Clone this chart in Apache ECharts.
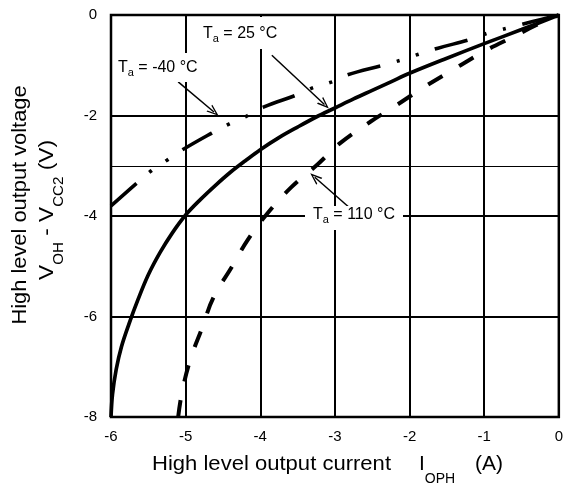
<!DOCTYPE html>
<html><head><meta charset="utf-8">
<script src="https://cdn.jsdelivr.net/npm/echarts@6/dist/echarts.min.js"></script>
<style>html,body{margin:0;padding:0;background:#fff}#c{width:566px;height:488px}</style>
</head><body><div id="c"></div>
<script>
// ---- data ----
const xTicks = [-6, -5, -4, -3, -2, -1, 0];
const yTicks = [0, -2, -4, -6, -8];
const thinGridY = [-3];

const current25 = [-6.00, -5.98, -5.93, -5.86, -5.76, -5.64, -5.50, -5.34, -5.18, -5.00, -4.80, -4.60, -4.40, -4.20, -4.00, -3.75, -3.50, -3.25, -3.00, -2.75, -2.50, -2.25, -2.00, -1.50, -1.00, -0.50, 0];
const voltage25 = [-8.00, -7.55, -7.05, -6.60, -6.15, -5.67, -5.17, -4.72, -4.34, -3.98, -3.67, -3.39, -3.13, -2.90, -2.68, -2.44, -2.23, -2.03, -1.85, -1.67, -1.50, -1.33, -1.16, -0.86, -0.57, -0.29, 0];

const currentM40 = [-6.0, -5.65, -5.46, -5.25, -5.05, -4.65, -4.42, -4.18, -3.95, -3.51, -3.30, -3.04, -2.83, -2.36, -2.12, -1.88, -1.62, -1.17, -0.95, -0.69, -0.35, 0];
const voltageM40 = [-3.80, -3.34, -3.10, -2.89, -2.69, -2.35, -2.17, -2.01, -1.83, -1.59, -1.45, -1.33, -1.19, -1.00, -0.90, -0.78, -0.66, -0.48, -0.36, -0.26, -0.13, 0];

const current110 = [-5.10, -5.05, -4.94, -4.78, -4.63, -4.38, -4.17, -3.90, -3.58, -3.23, -2.93, -2.53, -2.17, -1.80, -1.42, -0.97, -0.62, -0.30, 0];
const voltage110 = [-8.0, -7.52, -6.87, -6.23, -5.63, -5.01, -4.48, -3.94, -3.42, -2.97, -2.55, -2.13, -1.79, -1.43, -1.09, -0.70, -0.44, -0.20, 0];

// annotation arrows: [start, end] in data coords
const arrow25 = [[-3.845, -0.80], [-3.14, -1.78]];
const arrowM40 = [[-5.10, -1.33], [-4.62, -1.93]];
const arrow110 = [[-2.80, -3.84], [-3.27, -3.23]];

// ---- helpers ----
const FONT = '"Liberation Sans", Arial, Helvetica, sans-serif';
const mctx = document.createElement('canvas').getContext('2d');
function tw(t, s) { mctx.font = s + 'px ' + FONT; return mctx.measureText(t).width; }
function run(frags, center) {
  let x = 0; const kids = [];
  for (const [t, s, dy] of frags) {
    kids.push({ type: 'text', x: x, y: dy, z: 60,
      style: { text: t, font: s + 'px ' + FONT, fill: '#000', align: 'left', verticalAlign: 'middle', textAlign: 'left', textVerticalAlign: 'middle' } });
    x += tw(t, s);
  }
  if (center) kids.forEach(k => { k.x -= x / 2; });
  return kids;
}
const zip = (a, b) => a.map((v, i) => [v, b[i]]);
const arrowSym = 'path://M5,0 L10,12 L8.4,12 L5,3.6 L1.6,12 L0,12 Z';
function arrowItem(a) { return [{ coord: a[0], symbol: 'none' }, { coord: a[1], symbol: arrowSym, symbolSize: [9, 12] }]; }

const chart = echarts.init(document.getElementById('c'), null, { renderer: 'canvas' });
const axisFont = { color: '#000', fontSize: 15, fontFamily: FONT };

chart.setOption({
  animation: false,
  backgroundColor: '#fff',
  grid: { left: 111, right: 7, top: 15, bottom: 71, show: true, borderColor: '#000', borderWidth: 2.5, backgroundColor: 'transparent' },
  xAxis: {
    type: 'value', min: xTicks[0], max: xTicks[xTicks.length - 1], interval: 1,
    axisLine: { show: false }, axisTick: { show: false },
    axisLabel: Object.assign({ margin: 12 }, axisFont),
    splitLine: { show: true, lineStyle: { color: '#000', width: 2 } }
  },
  yAxis: {
    type: 'value', min: yTicks[yTicks.length - 1], max: yTicks[0], interval: 2,
    axisLine: { show: false }, axisTick: { show: false },
    axisLabel: Object.assign({ margin: 14 }, axisFont),
    splitLine: { show: true, lineStyle: { color: '#000', width: 2 } }
  },
  series: [
    {
      name: 'Ta = 25 °C', type: 'line', data: zip(current25, voltage25), smooth: 0.35, showSymbol: false,
      lineStyle: { color: '#000', width: 3.7, type: 'solid' }, z: 5,
      markLine: {
        silent: true, animation: false, label: { show: false },
        lineStyle: { color: '#000', width: 1.5, type: 'solid' },
        data: [arrowItem(arrow25), arrowItem(arrowM40), arrowItem(arrow110)]
      }
    },
    {
      name: 'Ta = -40 °C', type: 'line', data: zip(currentM40, voltageM40), smooth: 0.4, showSymbol: false,
      lineStyle: { color: '#000', width: 3.6, type: [34, 17, 3, 17, 3, 17], cap: 'butt' }, z: 5
    },
    {
      name: 'Ta = 110 °C', type: 'line', data: zip(current110, voltage110), smooth: 0.4, showSymbol: false,
      lineStyle: { color: '#000', width: 4, type: [17, 19], cap: 'butt' }, z: 5,
      markLine: {
        silent: true, animation: false, symbol: 'none', label: { show: false },
        lineStyle: { color: '#000', width: 1, type: 'solid' },
        data: thinGridY.map(v => ({ yAxis: v }))
      }
    }
  ],
  graphic: [
    // label boxes (hide grid lines under the labels)
    { type: 'rect', z: 50, shape: { x: 199, y: 17, width: 82, height: 32 }, style: { fill: '#fff' } },
    { type: 'rect', z: 50, shape: { x: 114, y: 53, width: 87, height: 29 }, style: { fill: '#fff' } },
    { type: 'rect', z: 50, shape: { x: 305, y: 206, width: 98, height: 24 }, style: { fill: '#fff' } },
    // annotation labels
    { type: 'group', x: 203, y: 34, z: 60, children: run([['T', 16, 0], ['a', 11, 5], [' = 25 °C', 16, 0]]) },
    { type: 'group', x: 118, y: 68, z: 60, children: run([['T', 16, 0], ['a', 11, 5], [' = -40 °C', 16, 0]]) },
    { type: 'group', x: 313, y: 215, z: 60, children: run([['T', 16, 0], ['a', 11, 5], [' = 110 °C', 16, 0]]) },
    // x-axis title
    { type: 'group', x: 152, y: 464, scaleX: 1.05, z: 60, children: run([['High level output current', 21, 0]]) },
    { type: 'group', x: 419, y: 464, z: 60, children: run([['I', 21, 0], ['OPH', 14, 15]]) },
    { type: 'group', x: 475, y: 464, z: 60, children: run([['(A)', 21, 0]]) },
    // y-axis title (two rotated lines)
    { type: 'group', x: 20.5, y: 205, rotation: Math.PI / 2, scaleX: 1.04, z: 60, children: run([['High level output voltage', 21, 0]], true) },
    { type: 'group', x: 47.5, y: 210, rotation: Math.PI / 2, scaleX: 1.08, z: 60,
      children: run([['V', 21, 0], ['OH', 14, 12], [' - V', 21, 0], ['CC2', 14, 12], [' (V)', 21, 0]], true) }
  ]
});
</script></body></html>
